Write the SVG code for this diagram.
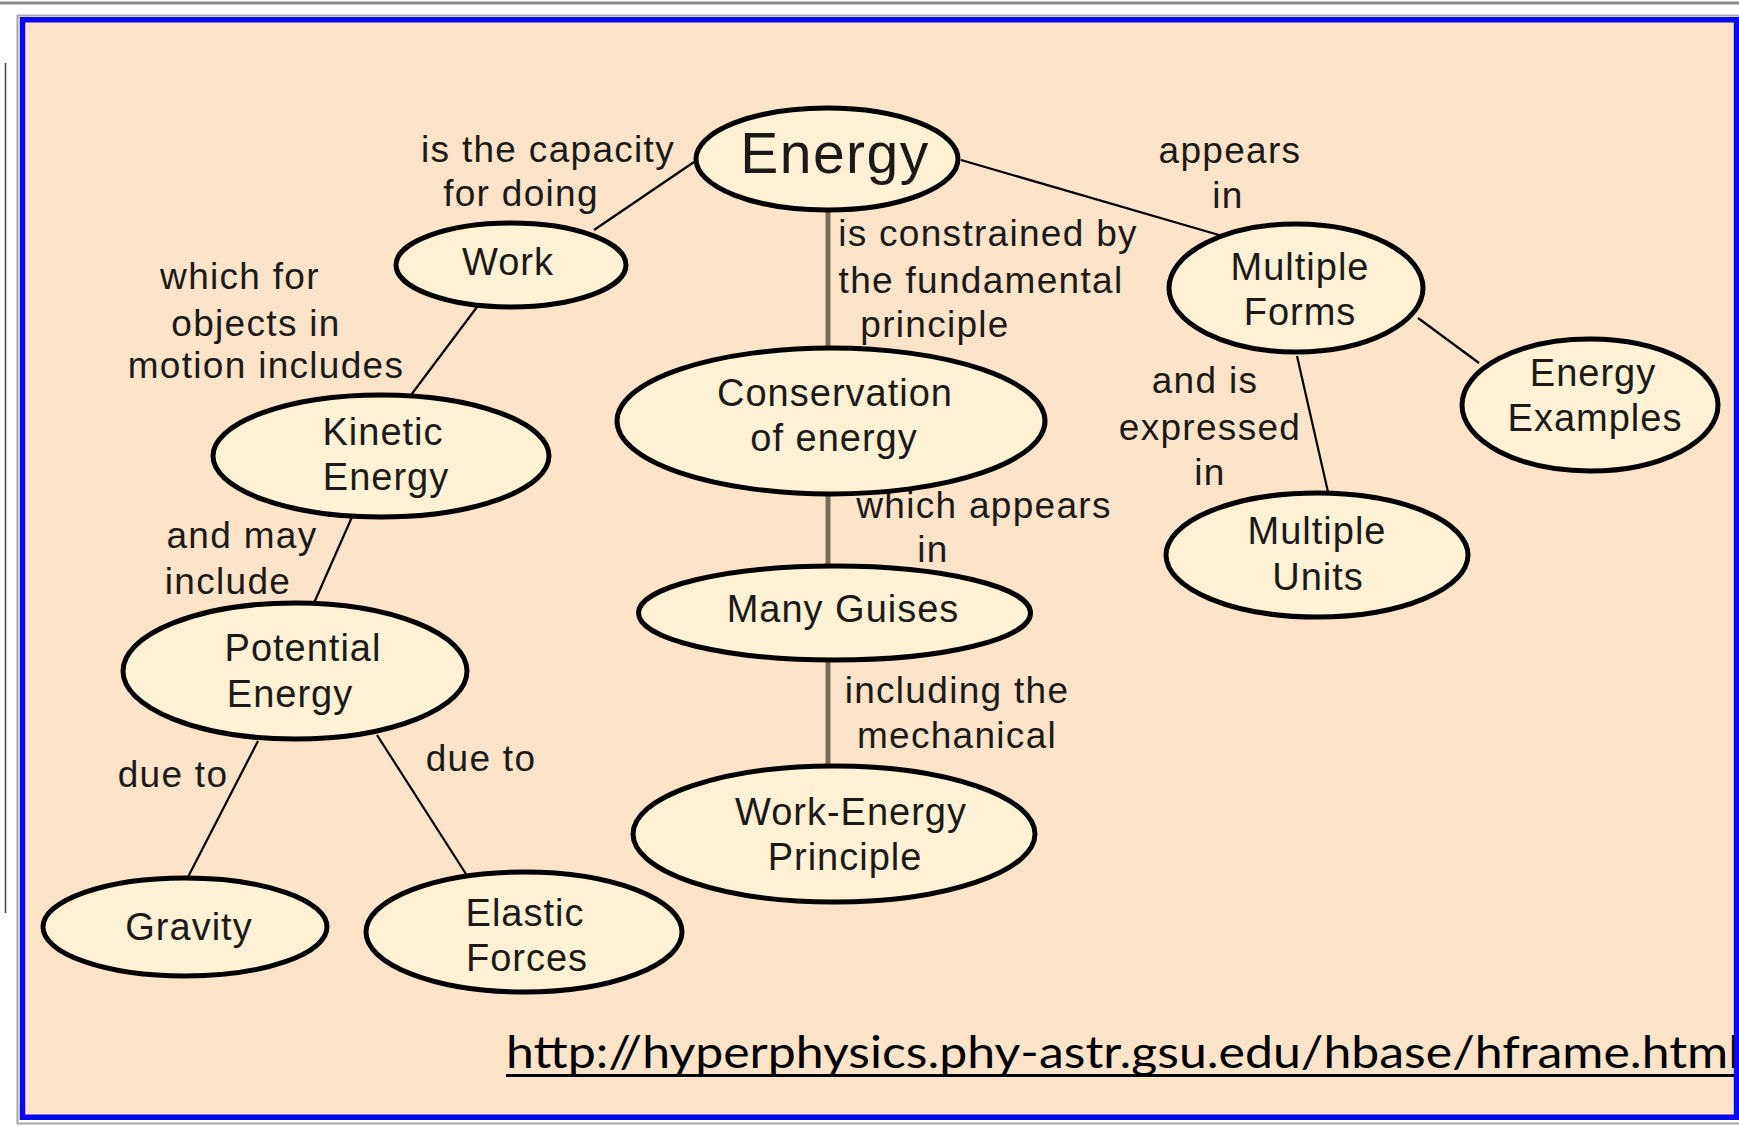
<svg xmlns="http://www.w3.org/2000/svg" width="1739" height="1126" viewBox="0 0 1739 1126">
<style>
.node ellipse{fill:#FFF1D4;stroke:#000;stroke-width:5}
.nt{font-family:"Liberation Sans",Arial,sans-serif;font-size:38px;fill:#1c1a16;text-anchor:middle;letter-spacing:1px}
.lb{font-family:"Liberation Sans",Arial,sans-serif;font-size:37px;fill:#1c1a16;text-anchor:middle;letter-spacing:1.3px}
.c{stroke:#000;stroke-width:2.2;fill:none}
.v{stroke:#7a6b57;stroke-width:5;fill:none}
</style>
<rect x="0" y="0" width="1739" height="1126" fill="#FFFFFF"/>
<line x1="0" y1="3" x2="1739" y2="3" stroke="#8a8a8a" stroke-width="3"/>
<line x1="5.5" y1="63" x2="5.5" y2="913" stroke="#444" stroke-width="1.5"/>
<rect x="17.5" y="15.5" width="1725" height="1108" fill="none" stroke="#a8a8a8" stroke-width="2"/>
<rect x="22.5" y="19.75" width="1714" height="1097.5" fill="#FDE3C8"/>

<g id="connectors">
<line class="c" x1="694" y1="162" x2="594" y2="230"/>
<line class="c" x1="477" y1="307" x2="411" y2="395"/>
<line class="c" x1="352" y1="517" x2="314" y2="603"/>
<line class="c" x1="258" y1="741" x2="188" y2="877"/>
<line class="c" x1="377" y1="735" x2="466" y2="874"/>
<line class="c" x1="961" y1="160" x2="1219" y2="235"/>
<line class="c" x1="1297" y1="356" x2="1328" y2="492"/>
<line class="c" x1="1418" y1="318" x2="1479" y2="363"/>
<line class="v" x1="828" y1="210" x2="828" y2="350"/>
<line class="v" x1="828" y1="492" x2="828" y2="568"/>
<line class="v" x1="828" y1="662" x2="828" y2="768"/>
</g>

<g id="labels">
<text class="lb" x="548" y="162">is the capacity</text>
<text class="lb" x="521" y="206">for doing</text>
<text class="lb" x="240" y="289">which for</text>
<text class="lb" x="256" y="336">objects in</text>
<text class="lb" x="266" y="378">motion includes</text>
<text class="lb" x="242" y="548">and may</text>
<text class="lb" x="228" y="594">include</text>
<text class="lb" x="173" y="787">due to</text>
<text class="lb" x="481" y="771">due to</text>
<text class="lb" x="1230" y="163">appears</text>
<text class="lb" x="1228" y="208">in</text>
<text class="lb" x="988" y="246">is constrained by</text>
<text class="lb" x="981" y="293">the fundamental</text>
<text class="lb" x="935" y="337">principle</text>
<text class="lb" x="984" y="518">which appears</text>
<text class="lb" x="933" y="562">in</text>
<text class="lb" x="957" y="703">including the</text>
<text class="lb" x="957" y="748">mechanical</text>
<text class="lb" x="1205" y="393">and is</text>
<text class="lb" x="1210" y="440">expressed</text>
<text class="lb" x="1210" y="485">in</text>
</g>

<g id="energy" class="node">
<ellipse cx="827" cy="159" rx="131" ry="51"/>
<text class="nt" x="835" y="173" style="font-size:57px;letter-spacing:1.5px">Energy</text>
</g>
<g id="work" class="node">
<ellipse cx="511" cy="265" rx="115" ry="42"/>
<text class="nt" x="508" y="275">Work</text>
</g>
<g id="kinetic-energy" class="node">
<ellipse cx="381" cy="456" rx="168" ry="61"/>
<text class="nt" x="383" y="445">Kinetic</text>
<text class="nt" x="386" y="490">Energy</text>
</g>
<g id="potential-energy" class="node">
<ellipse cx="295" cy="671" rx="172" ry="68"/>
<text class="nt" x="303" y="661">Potential</text>
<text class="nt" x="290" y="707">Energy</text>
</g>
<g id="gravity" class="node">
<ellipse cx="185" cy="927" rx="142" ry="49"/>
<text class="nt" x="189" y="940">Gravity</text>
</g>
<g id="elastic-forces" class="node">
<ellipse cx="524" cy="932" rx="158" ry="60"/>
<text class="nt" x="525" y="926">Elastic</text>
<text class="nt" x="527" y="971">Forces</text>
</g>
<g id="conservation" class="node">
<ellipse cx="831" cy="421" rx="214" ry="73"/>
<text class="nt" x="835" y="406">Conservation</text>
<text class="nt" x="834" y="451">of energy</text>
</g>
<g id="many-guises" class="node">
<ellipse cx="834.5" cy="613" rx="196" ry="47"/>
<text class="nt" x="843" y="622">Many Guises</text>
</g>
<g id="work-energy-principle" class="node">
<ellipse cx="834" cy="834" rx="201" ry="68"/>
<text class="nt" x="851" y="825">Work-Energy</text>
<text class="nt" x="845" y="870">Principle</text>
</g>
<g id="multiple-forms" class="node">
<ellipse cx="1296" cy="288" rx="127" ry="64"/>
<text class="nt" x="1300" y="280">Multiple</text>
<text class="nt" x="1300" y="325">Forms</text>
</g>
<g id="energy-examples" class="node">
<ellipse cx="1590" cy="405" rx="128" ry="66"/>
<text class="nt" x="1593" y="386">Energy</text>
<text class="nt" x="1595" y="431">Examples</text>
</g>
<g id="multiple-units" class="node">
<ellipse cx="1317" cy="555" rx="151" ry="62"/>
<text class="nt" x="1317" y="544">Multiple</text>
<text class="nt" x="1318" y="590">Units</text>
</g>

<g id="url">
<text x="506" y="1068" font-family="Lato,'Open Sans',sans-serif" font-size="45" fill="#000" textLength="1234" lengthAdjust="spacingAndGlyphs">http://hyperphysics.phy-astr.gsu.edu/hbase/hframe.html</text>
<line x1="506" y1="1075.5" x2="1739" y2="1075.5" stroke="#000" stroke-width="3"/>
</g>

<rect x="22.5" y="19.75" width="1714" height="1097.5" fill="none" stroke="#0a0af0" stroke-width="5.5"/>
</svg>
